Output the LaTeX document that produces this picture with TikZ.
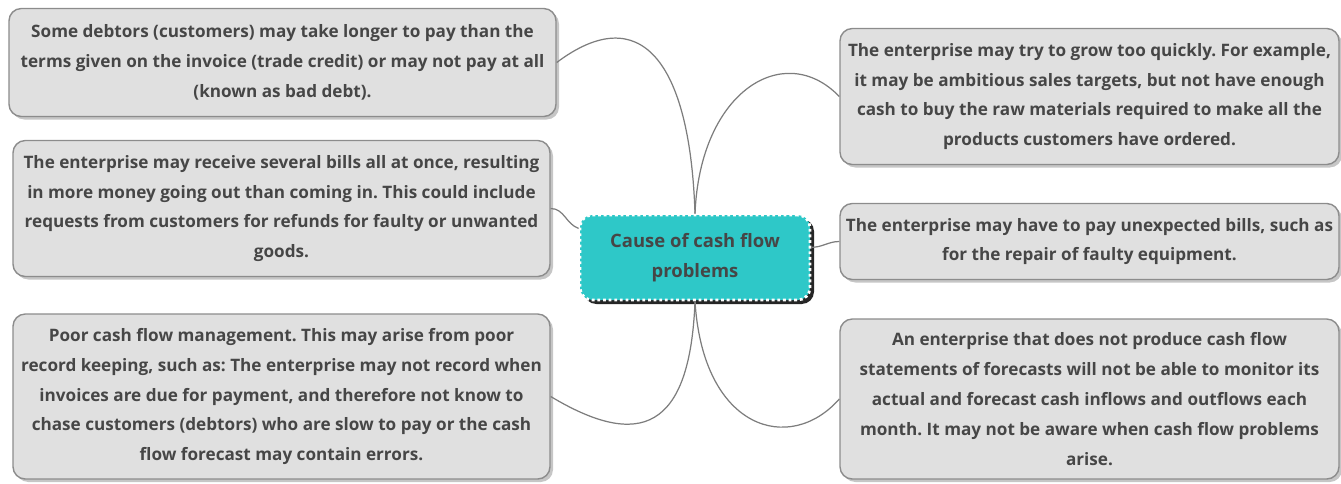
\documentclass[tikz,border=0pt]{standalone}
\usepackage{fontspec}
\setmainfont{Open Sans}
\usepackage{tikz}
\usetikzlibrary{shadows}
\frenchspacing

\definecolor{boxfill}{RGB}{224,224,224}
\definecolor{boxline}{RGB}{140,140,140}
\definecolor{txtcol}{RGB}{70,70,70}
\definecolor{teal}{RGB}{46,200,200}
\definecolor{wire}{RGB}{125,125,125}

\tikzset{
  cause/.style={draw=boxline, fill=boxfill, rounded corners=7pt, line width=0.8pt,
    align=center, text=txtcol, font=\bfseries\fontsize{9.75}{17}\selectfont,
    drop shadow={shadow xshift=0.06cm, shadow yshift=-0.06cm, opacity=0.45}},
  topic/.style={fill=teal, draw=white, line width=1.6pt, dash pattern=on 1.6pt off 1.6pt,
    rounded corners=7pt, align=center, text=txtcol, font=\bfseries\fontsize{10.5}{17}\selectfont,
    minimum width=4.6cm, minimum height=1.7cm,
    drop shadow={shadow xshift=0.08cm, shadow yshift=-0.08cm, opacity=1, fill=black!85}},
  link/.style={draw=wire, line width=0.7pt}
}

\begin{document}
\begin{tikzpicture}
  \useasboundingbox (0,0) rectangle (26.82,-9.66);

  \node[topic] at (13.9,-5.15) (ctr) {Cause of cash flow\\problems};

  \node[cause, minimum width=10.94cm, minimum height=2.16cm] at (5.65,-1.25) (debtors)
    {Some debtors (customers) may take longer to pay than the\\terms given on the invoice (trade credit) or may not pay at all\\(known as bad debt).};
  \node[cause, minimum width=10.74cm, minimum height=2.72cm] at (5.63,-4.17) (bills)
    {The enterprise may receive several bills all at once, resulting\\in more money going out than coming in. This could include\\requests from customers for refunds for faulty or unwanted\\goods.};
  \node[cause, minimum width=10.74cm, minimum height=3.3cm] at (5.63,-7.93) (records)
    {Poor cash flow management. This may arise from poor\\record keeping, such as: The enterprise may not record when\\invoices are due for payment, and therefore not know to\\chase customers (debtors) who are slow to pay or the cash\\flow forecast may contain errors.};

  \node[cause, minimum width=9.98cm, minimum height=2.72cm] at (21.79,-1.93) (growth)
    {The enterprise may try to grow too quickly. For example,\\it may be ambitious sales targets, but not have enough\\cash to buy the raw materials required to make all the\\products customers have ordered.};
  \node[cause, minimum width=9.98cm, minimum height=1.52cm] at (21.79,-4.83) (unexpected)
    {The enterprise may have to pay unexpected bills, such as\\for the repair of faulty equipment.};
  \node[cause, minimum width=9.98cm, minimum height=3.2cm] at (21.79,-7.98) (forecast)
    {An enterprise that does not produce cash flow\\statements of forecasts will not be able to monitor its\\actual and forecast cash inflows and outflows each\\month. It may not be aware when cash flow problems\\arise.};

  \draw[link] (ctr.north) .. controls (13.8,-1.2) and (12.8,0) .. (debtors.east);
  \draw[link] (ctr.north) .. controls (14,-1.8) and (15.7,-0.8) .. (growth.west);
  \draw[link] (ctr.166) to[out=160, in=0] (bills.east);
  \draw[link] (ctr.5) to[out=0, in=180] (unexpected.west);
  \draw[link] (ctr.south) .. controls (13.8,-8.6) and (12.8,-9) .. (records.east);
  \draw[link] (ctr.south) .. controls (14.06,-8.6) and (15.8,-9.1) .. (forecast.west);
\end{tikzpicture}
\end{document}
